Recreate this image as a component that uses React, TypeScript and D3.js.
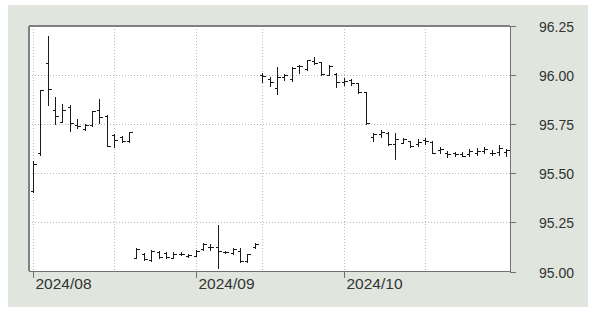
import React from 'react';
import * as d3 from 'd3';

// trading days per month (2024)
const augDays = [1, 2, 5, 6, 7, 8, 9, 12, 13, 14, 15, 16, 19, 20, 21, 22, 23, 26, 27, 28, 29, 30];
const sepDays = [3, 4, 5, 6, 9, 10, 11, 12, 13, 16, 17, 18, 19, 20, 23, 24, 25, 26, 27, 30];
const octDays = [1, 2, 3, 4, 7, 8, 9, 10, 11, 14, 15, 16, 17, 18, 21, 22, 23, 24, 25, 28, 29, 30, 31];

const opens = [
  95.41, 95.606, 96.064, 95.825, 95.763, 95.837, 95.745, 95.728, 95.745, 95.823, 95.791, 95.694, 95.687, 95.664,
  95.071, 95.09, 95.06, 95.099, 95.095, 95.071, 95.09, 95.078, 95.077, 95.114, 95.126, 95.124, 95.098, 95.093,
  95.107, 95.051, 95.124, 96.002, 95.98, 95.937, 95.99, 95.98, 96.049, 96.031, 96.074, 96.068, 96.002, 96.006,
  95.967, 95.976, 95.959, 95.913, 95.684, 95.701, 95.708, 95.65, 95.657, 95.665, 95.65, 95.671, 95.662, 95.62,
  95.603, 95.602, 95.601, 95.6, 95.606, 95.616, 95.603, 95.611, 95.611,
];
const highs = [
  95.565, 95.927, 96.199, 95.888, 95.854, 95.85, 95.776, 95.754, 95.82, 95.878, 95.796, 95.701, 95.69, 95.713,
  95.122, 95.094, 95.109, 95.102, 95.099, 95.097, 95.099, 95.089, 95.11, 95.145, 95.14, 95.238, 95.107, 95.119,
  95.119, 95.09, 95.145, 96.01, 95.99, 96.044, 96.007, 96.041, 96.052, 96.078, 96.092, 96.069, 96.052, 96.01,
  95.985, 95.98, 95.962, 95.913, 95.708, 95.721, 95.713, 95.705, 95.679, 95.667, 95.674, 95.679, 95.667, 95.633,
  95.616, 95.61, 95.61, 95.623, 95.628, 95.636, 95.62, 95.645, 95.623,
];
const lows = [
  95.405, 95.593, 95.847, 95.752, 95.761, 95.715, 95.732, 95.723, 95.743, 95.759, 95.638, 95.633, 95.662, 95.662,
  95.068, 95.06, 95.056, 95.068, 95.071, 95.068, 95.082, 95.073, 95.077, 95.11, 95.112, 95.017, 95.093, 95.09,
  95.048, 95.048, 95.119, 95.967, 95.946, 95.905, 95.976, 95.972, 96.013, 96.027, 96.058, 96.002, 96.002, 95.942,
  95.951, 95.951, 95.911, 95.752, 95.667, 95.687, 95.645, 95.572, 95.654, 95.636, 95.64, 95.65, 95.603, 95.606,
  95.583, 95.587, 95.587, 95.589, 95.594, 95.603, 95.594, 95.594, 95.589,
];
const closes = [
  95.548, 95.924, 95.929, 95.791, 95.825, 95.757, 95.743, 95.749, 95.82, 95.788, 95.642, 95.67, 95.664, 95.713,
  95.116, 95.063, 95.105, 95.073, 95.075, 95.09, 95.09, 95.082, 95.102, 95.14, 95.124, 95.102, 95.1, 95.114,
  95.051, 95.088, 95.14, 95.996, 95.967, 95.993, 96.002, 96.039, 96.047, 96.078, 96.064, 96.005, 96.049, 95.964,
  95.971, 95.959, 95.913, 95.755, 95.7, 95.713, 95.648, 95.674, 95.674, 95.64, 95.659, 95.666, 95.606, 95.623,
  95.6, 95.6, 95.59, 95.616, 95.616, 95.623, 95.606, 95.628, 95.62,
];

const yTicks = [95.0, 95.25, 95.5, 95.75, 96.0, 96.25];
const monthLabels = ['2024/08', '2024/09', '2024/10'];

const dates = [
  ...augDays.map((d) => ({ m: 8, d })),
  ...sepDays.map((d) => ({ m: 9, d })),
  ...octDays.map((d) => ({ m: 10, d })),
];
const keys = dates.map((t) => `${t.m}-${t.d}`);

const W = 595;
const H = 313;
const left = 29;
const right = 510;
const top = 26;
const bottom = 271;

const App: React.FC = () => {
  const x = d3.scaleBand().domain(keys).range([left, right]).padding(0);
  const y = d3.scaleLinear().domain([95, 96.25]).range([bottom + 0.5, top + 0.3]);
  const cx = (i: number) => Math.round(x(keys[i])! + x.bandwidth() / 2) + 0.5;
  const py = (v: number) => Math.round(y(v)) + 0.5;

  // first trading day of each month, and first on/after the 16th
  const monthStarts: number[] = [];
  const midMonths: number[] = [];
  dates.forEach((t, i) => {
    if (i === 0 || dates[i - 1].m !== t.m) monthStarts.push(i);
    if (t.d >= 16 && (i === 0 || dates[i - 1].m !== t.m || dates[i - 1].d < 16)) midMonths.push(i);
  });

  const font = '"Liberation Sans", Arial, sans-serif';

  return (
    <svg width={W} height={H} style={{ position: 'absolute', left: 0, top: 0 }}>
      <rect x={8} y={5} width={580} height={302} fill="#e0e6dd" />
      <rect x={left} y={top} width={right - left} height={bottom - top} fill="#ffffff" />

      {/* grid */}
      <g stroke="#b8b8b8" strokeDasharray="1,2" shapeRendering="crispEdges">
        {yTicks.slice(1, -1).map((v) => (
          <line key={v} x1={left} x2={right} y1={py(v)} y2={py(v)} />
        ))}
        {[...monthStarts, ...midMonths].map((i) => (
          <line key={i} x1={cx(i)} x2={cx(i)} y1={top} y2={bottom} />
        ))}
      </g>

      {/* frame */}
      <g shapeRendering="crispEdges">
        <line x1={left} x2={left} y1={top} y2={bottom} stroke="#808080" strokeWidth={2} />
        <line x1={left} x2={right} y1={top} y2={top} stroke="#808080" strokeWidth={2} />
        <line x1={right + 0.5} x2={right + 0.5} y1={top} y2={bottom} stroke="#707070" />
        <line x1={left} x2={right + 1} y1={bottom + 0.5} y2={bottom + 0.5} stroke="#707070" />
      </g>

      {/* y axis, right */}
      <g shapeRendering="crispEdges">
        {yTicks.map((v) => (
          <g key={v}>
            <line x1={right} x2={right + 6} y1={py(v)} y2={py(v)} stroke="#707070" />
            <text x={539} y={py(v)} dy="0.36em" fontFamily={font} fontSize={14} fill="#333">
              {v.toFixed(2)}
            </text>
          </g>
        ))}
      </g>

      {/* x axis */}
      <g shapeRendering="crispEdges">
        {monthStarts.map((i, k) => (
          <g key={i}>
            <line x1={cx(i)} x2={cx(i)} y1={bottom} y2={bottom + 7} stroke="#707070" />
            <text x={cx(i) + 2} y={289} fontFamily={font} fontSize={15.5} fill="#333">
              {monthLabels[k]}
            </text>
          </g>
        ))}
      </g>

      {/* OHLC bars */}
      <g stroke="#1a1a1a" shapeRendering="crispEdges">
        {keys.map((k, i) => {
          const c = cx(i);
          return (
            <g key={k}>
              <line x1={c} x2={c} y1={py(highs[i]) - 0.5} y2={py(lows[i]) + 0.5} />
              <line x1={c - 3} x2={c} y1={py(opens[i])} y2={py(opens[i])} />
              <line x1={c} x2={c + 3} y1={py(closes[i])} y2={py(closes[i])} />
            </g>
          );
        })}
      </g>
    </svg>
  );
};

export default App;
